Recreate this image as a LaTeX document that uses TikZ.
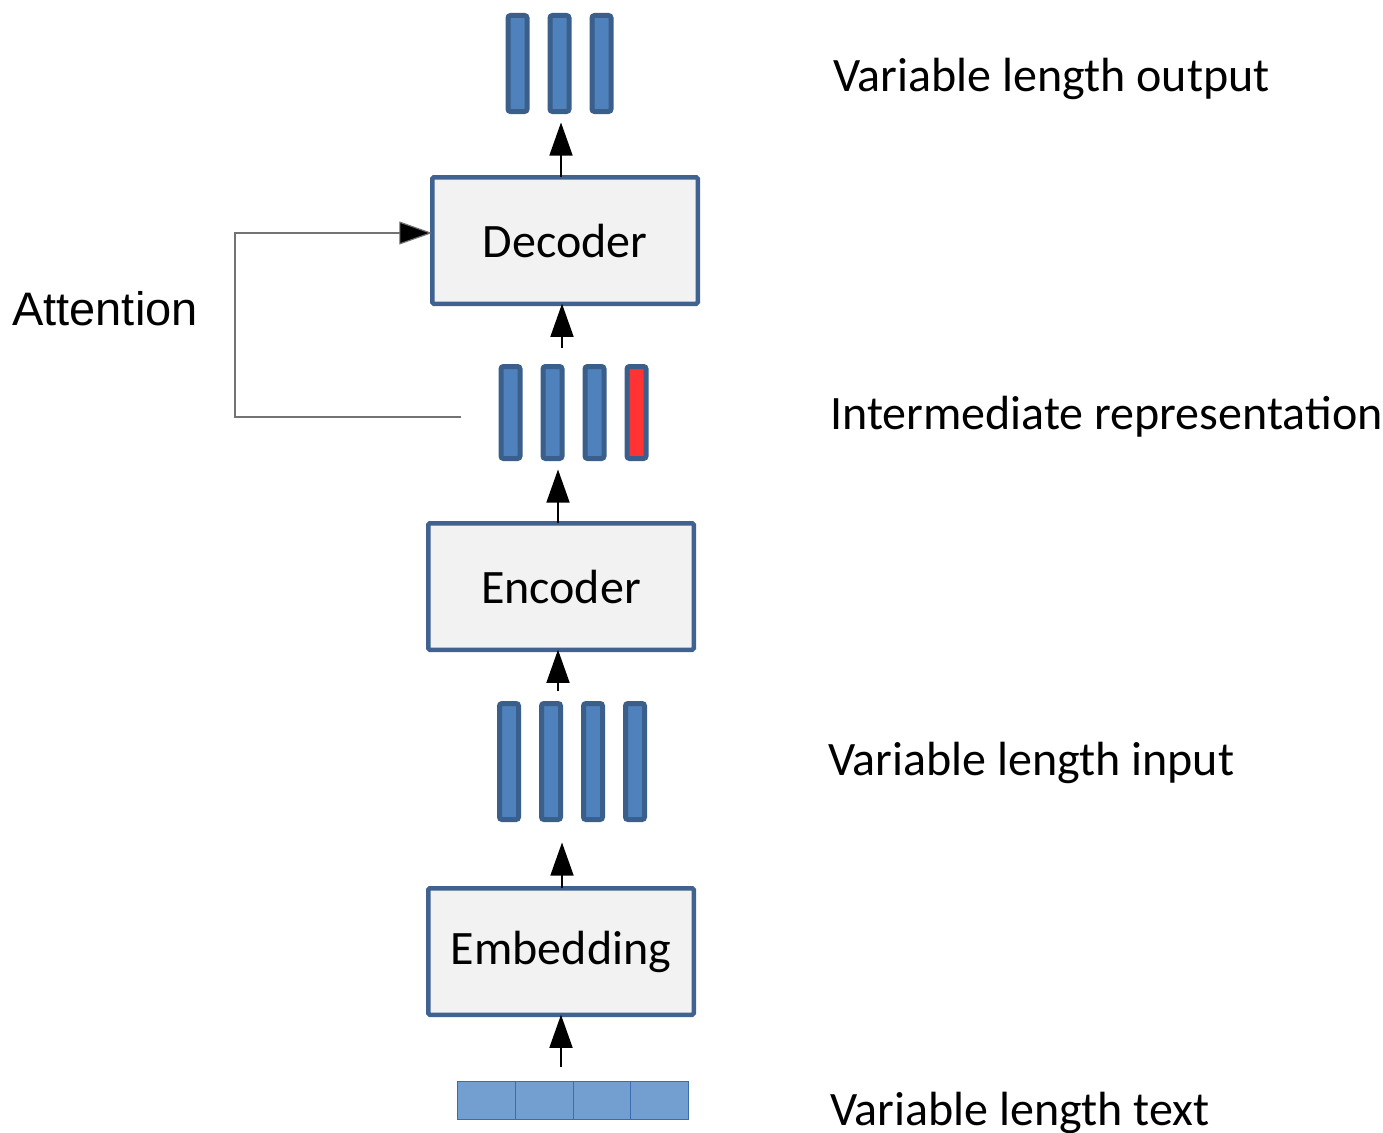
\documentclass[tikz,border=0pt]{standalone}
\usepackage{fontspec}
\setmainfont{Carlito}
\newfontfamily\arialfont{Liberation Sans}
\usetikzlibrary{arrows.meta,calc}
\definecolor{barfill}{HTML}{4F81BD}
\definecolor{barline}{HTML}{3A5F8B}
\definecolor{boxfill}{HTML}{F2F2F2}
\definecolor{boxline}{HTML}{3F6291}
\definecolor{hotfill}{HTML}{FF3333}
\definecolor{cellfill}{HTML}{729FCF}
\definecolor{cellline}{HTML}{3A6CB0}
\tikzset{
  bar/.style={draw=barline, fill=barfill, line width=5pt, rounded corners=2.5pt,
    minimum width=19pt, inner sep=0pt, outer sep=0pt},
  stage/.style={draw=boxline, fill=boxfill, line width=4.5pt, rounded corners=1.5pt,
    minimum width=265.5pt, minimum height=126.5pt, inner sep=0pt, outer sep=0pt,
    font=\fontsize{48}{57}\selectfont},
  cell/.style={draw=cellline, fill=cellfill, line width=1pt, minimum width=57.75pt,
    minimum height=38pt, inner sep=0pt, outer sep=0pt},
  flow/.style={line width=1.5pt, -{Triangle[width=23pt,length=33pt]}},
  label/.style={anchor=base west, inner sep=0pt, font=\fontsize{48}{57}\selectfont},
}
\begin{document}
\begin{tikzpicture}[x=1pt,y=-1pt]
\useasboundingbox (0,0) rectangle (1383,1132);

% output vectors
\node[bar, minimum height=96pt] (o1) at (517.5,63.5) {};
\node[bar, minimum height=96pt] (o2) at (559.5,63.5) {};
\node[bar, minimum height=96pt] (o3) at (601.5,63.5) {};

% decoder
\node[stage] (dec) at (565,240.5) {Decoder};

% intermediate representation
\node[bar, minimum height=92pt] (m1) at (510.5,412.5) {};
\node[bar, minimum height=92pt] (m2) at (552.5,412.5) {};
\node[bar, minimum height=92pt] (m3) at (594.5,412.5) {};
\node[bar, minimum height=92pt, fill=hotfill] (m4) at (636.5,412.5) {};

% encoder
\node[stage] (enc) at (561,586.5) {Encoder};

% input vectors
\node[bar, minimum height=116pt] (v1) at (509,761.5) {};
\node[bar, minimum height=116pt] (v2) at (551,761.5) {};
\node[bar, minimum height=116pt] (v3) at (593,761.5) {};
\node[bar, minimum height=116pt] (v4) at (635,761.5) {};

% embedding
\node[stage] (emb) at (561,951.5) {Embedding};

% text tokens
\node[cell] (t1) at (486.4,1100.5) {};
\node[cell, anchor=west] (t2) at (t1.east) {};
\node[cell, anchor=west] (t3) at (t2.east) {};
\node[cell, anchor=west] (t4) at (t3.east) {};

% forward connectors
\draw[flow] (t1.north east -| 561,0) ++(0,-15) coordinate (tx) -- (tx |- emb.south);
\draw[flow] (emb.north -| 562,0) coordinate (ex) -- ([yshift=-23pt]ex |- v2.south);
\draw[flow] ([yshift=13pt]v2.north -| 558,0) coordinate (vx) -- (vx |- enc.south);
\draw[flow] (enc.north -| 558,0) coordinate (nx) -- ([yshift=-11pt]nx |- m2.south);
\draw[flow] ([yshift=19pt]m2.north -| 562,0) coordinate (mx) -- (mx |- dec.south);
\draw[flow] (dec.north -| 561,0) coordinate (dx) -- ([yshift=-11pt]dx |- o2.south);

% attention feedback
\coordinate (attn) at (461,417);
\draw[line width=1.2pt, draw=black!55, -{Triangle[width=23pt,length=33pt,fill=black]}]
  (attn) -- (235,417) |- ([yshift=7.5pt]dec.west);

% labels
\node[label] (lout) at (833,92) {Variable length output};
\node[label] (lmid) at (830,429) {Intermediate representation};
\node[label] (lin) at (828,775) {Variable length input};
\node[label] (ltxt) at (830,1125) {Variable length text};
\node[label, font=\arialfont\fontsize{47}{56}\selectfont] (latt) at (12,325) {Attention};
\end{tikzpicture}
\end{document}
